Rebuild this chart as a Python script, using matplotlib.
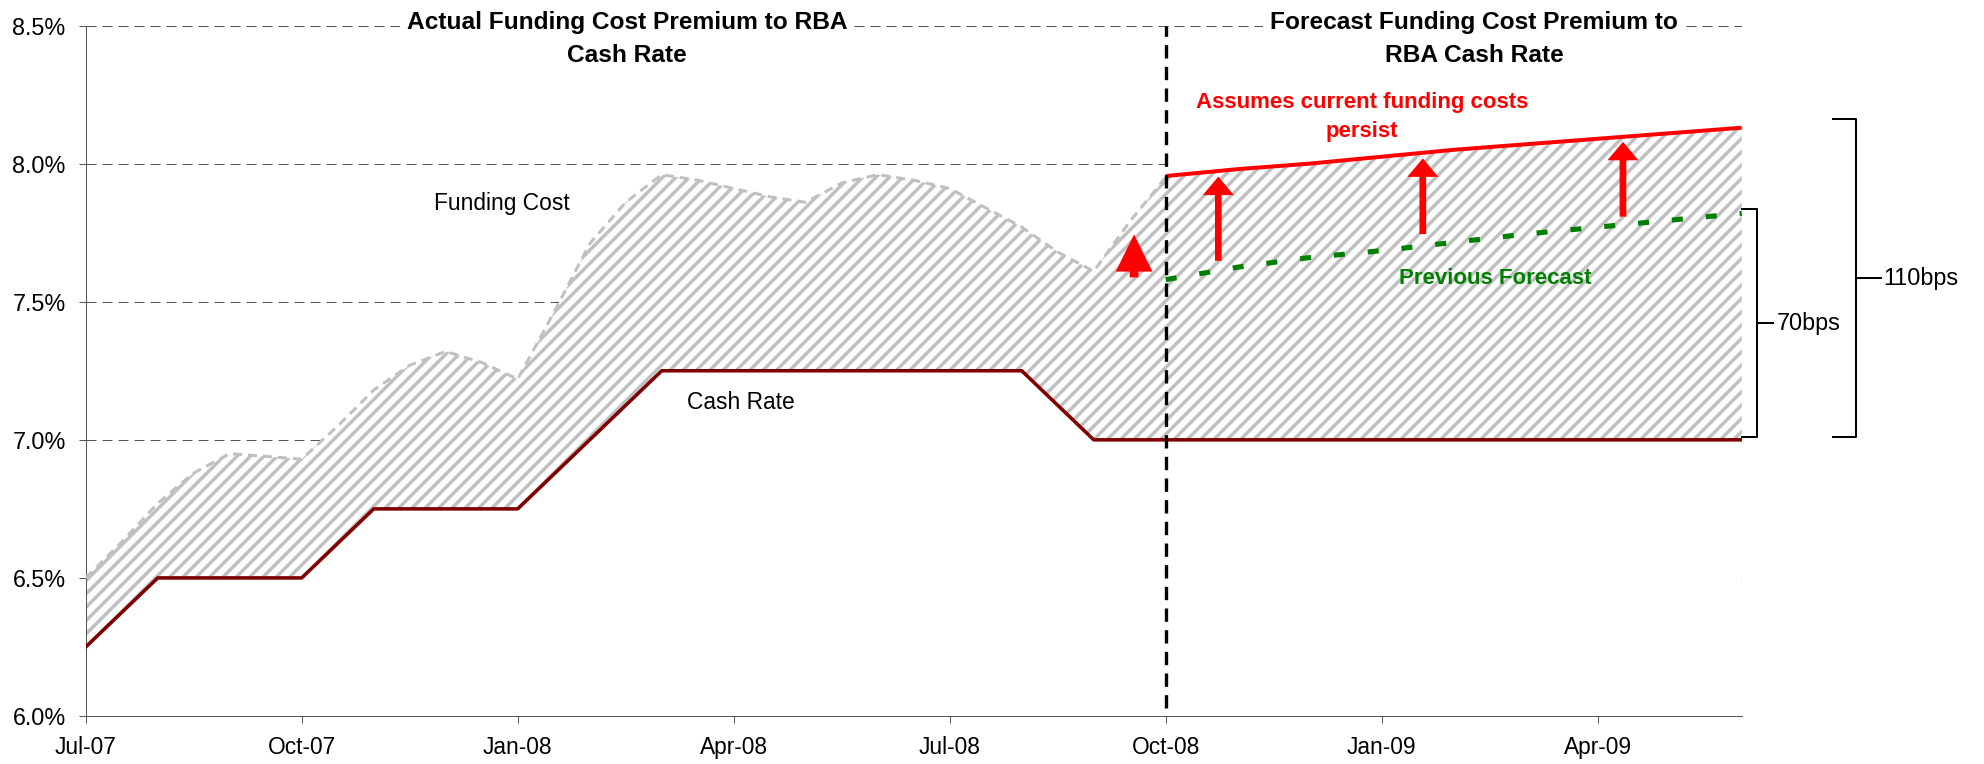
import numpy as np
import matplotlib
matplotlib.use("Agg")
import matplotlib.pyplot as plt

plt.rcParams['font.family'] = ['Liberation Sans', 'DejaVu Sans']
plt.rcParams['hatch.linewidth'] = 3.1
plt.rcParams['hatch.color'] = '#c0c0c0'

# ---- data (month index 0 = Jul-07) ----
months = np.arange(24)
cash_rate = [6.25, 6.50, 6.50, 6.50, 6.75, 6.75, 6.75, 7.00, 7.25, 7.25, 7.25, 7.25,
             7.25, 7.25, 7.00, 7.00, 7.00, 7.00, 7.00, 7.00, 7.00, 7.00, 7.00, 7.00]

# funding cost sampled every half month, Jul-07 .. Oct-08
funding_x = np.arange(0, 15.5, 0.5)
funding_cost = [6.50, 6.63, 6.77, 6.88, 6.95, 6.94, 6.93, 7.05, 7.18, 7.27, 7.32, 7.28,
                7.22, 7.46, 7.71, 7.86, 7.96, 7.94, 7.91, 7.88, 7.86, 7.93, 7.96, 7.94,
                7.91, 7.84, 7.77, 7.68, 7.61, 7.79, 7.95]

forecast_months = np.arange(15, 24)
current_costs = [7.955, 7.98, 8.00, 8.025, 8.05, 8.07, 8.09, 8.11, 8.13]
previous_forecast = [7.58, 7.625, 7.66, 7.685, 7.715, 7.745, 7.77, 7.795, 7.82]

jump_x, jump_base, jump_tip = 14.56, 7.588, 7.744
shift_x = [15.73, 18.57, 21.35]
shift_base = [7.648, 7.745, 7.808]
shift_tip = [7.953, 8.019, 8.079]

bracket_70 = (7.01, 7.835)
bracket_110 = (7.01, 8.16)

tick_months = [0, 3, 6, 9, 12, 15, 18, 21]
tick_labels = ['Jul-07', 'Oct-07', 'Jan-08', 'Apr-08', 'Jul-08', 'Oct-08', 'Jan-09', 'Apr-09']
y_ticks = [6.0, 6.5, 7.0, 7.5, 8.0, 8.5]

# ---- figure ----
fig = plt.figure(figsize=(24.8, 9.55), dpi=80)
ax = fig.add_axes([0.0432, 0.0628, 0.8347, 0.9038])
ax.set_xlim(months[0], months[-1])
ax.set_ylim(y_ticks[0], y_ticks[-1])

# dashed horizontal gridlines
for lv in y_ticks[1:]:
    x_end = forecast_months[0] if lv == 8.0 else months[-1]
    ax.hlines(lv, months[0], x_end, colors='#555555', linewidth=0.9,
              linestyles=(0, (10, 6)), zorder=1)

# white area under the cash rate
ax.fill_between(months, y_ticks[0], cash_rate, facecolor='white', edgecolor='none', zorder=2)

# hatched premium between cash rate and funding cost / forecast
top_x = np.concatenate([funding_x, forecast_months[1:]])
top_y = np.concatenate([funding_cost, current_costs[1:]])
poly_x = np.concatenate([top_x, months[::-1]])
poly_y = np.concatenate([top_y, np.array(cash_rate)[::-1]])
ax.fill(poly_x, poly_y, facecolor='white', edgecolor='#c0c0c0', hatch='//',
        linewidth=0, zorder=2)

ax.plot(funding_x, funding_cost, color='#c0c0c0', lw=2.7, dashes=(3, 2), zorder=3)
ax.plot(months, cash_rate, color='#800000', lw=3.2, zorder=4)
ax.plot(forecast_months, current_costs, color='#ff0000', lw=3.6,
        solid_capstyle='butt', zorder=4)
ax.plot(forecast_months, previous_forecast, color='#008000', lw=4.6,
        dashes=(2.15, 4.5), dash_capstyle='butt', zorder=4)

# forecast start marker
ax.axvline(forecast_months[0], ymin=0.012, ymax=1, color='black', lw=3.0,
           dashes=(4.0, 2.5), zorder=5)

# arrows
ax.arrow(jump_x, jump_base, 0, jump_tip - jump_base, width=0.121, head_width=0.51,
         head_length=0.135, length_includes_head=True, color='#ff0000', lw=0, zorder=6)
for xa, b, t in zip(shift_x, shift_base, shift_tip):
    ax.arrow(xa, b, 0, t - b, width=0.093, head_width=0.43, head_length=0.067,
             length_includes_head=True, color='#ff0000', lw=0, zorder=6)

# axes styling
for side in ['top', 'right']:
    ax.spines[side].set_visible(False)
for side in ['left', 'bottom']:
    ax.spines[side].set_color('#555555')
    ax.spines[side].set_linewidth(0.9)
ax.set_xticks(tick_months)
ax.set_xticklabels(tick_labels)
ax.set_yticks(y_ticks)
ax.set_yticklabels([f'{v:.1f}%' for v in y_ticks])
ax.tick_params(axis='y', direction='out', length=6, width=0.9, color='#555555',
               pad=12, labelsize=21)
ax.tick_params(axis='x', direction='out', length=6.3, width=0.9, color='#555555',
               pad=12, labelsize=20.5)

# text
title_kw = dict(ha='center', va='center', fontsize=22, fontweight='bold',
                linespacing=1.55, zorder=7,
                bbox=dict(facecolor='white', edgecolor='none', pad=6))
ax.text(7.52, 8.4514, 'Actual Funding Cost Premium to RBA\nCash Rate', **title_kw)
ax.text(19.28, 8.4514, 'Forecast Funding Cost Premium to\nRBA Cash Rate', **title_kw)

ax.text(5.78, 7.832, 'Funding Cost', ha='center', va='baseline', fontsize=20.5, zorder=7)
ax.text(9.095, 7.110, 'Cash Rate', ha='center', va='baseline', fontsize=20.5, zorder=7)
ax.text(17.73, 8.167, 'Assumes current funding costs\npersist', ha='center', va='center',
        fontsize=20, fontweight='bold', color='#ff0000', linespacing=1.5, zorder=7)
ax.text(19.57, 7.564, 'Previous Forecast', ha='center', va='baseline', fontsize=20,
        fontweight='bold', color='#008000', zorder=7)

# premium brackets on the right
for (lo, hi), x_in, x_sp, x_tk, label in [(bracket_70, 23.01, 23.21, 23.44, '70bps'),
                                           (bracket_110, 24.27, 24.58, 24.93, '110bps')]:
    mid = (lo + hi) / 2
    ax.plot([x_in, x_sp, x_sp, x_in], [hi, hi, lo, lo], color='black', lw=1.8,
            clip_on=False, zorder=7)
    ax.plot([x_sp, x_tk], [mid, mid], color='black', lw=1.8, clip_on=False, zorder=7)
    ax.text(x_tk + 0.04, mid, label, ha='left', va='center', fontsize=21, zorder=7)

fig.savefig('out.png', dpi=80)
